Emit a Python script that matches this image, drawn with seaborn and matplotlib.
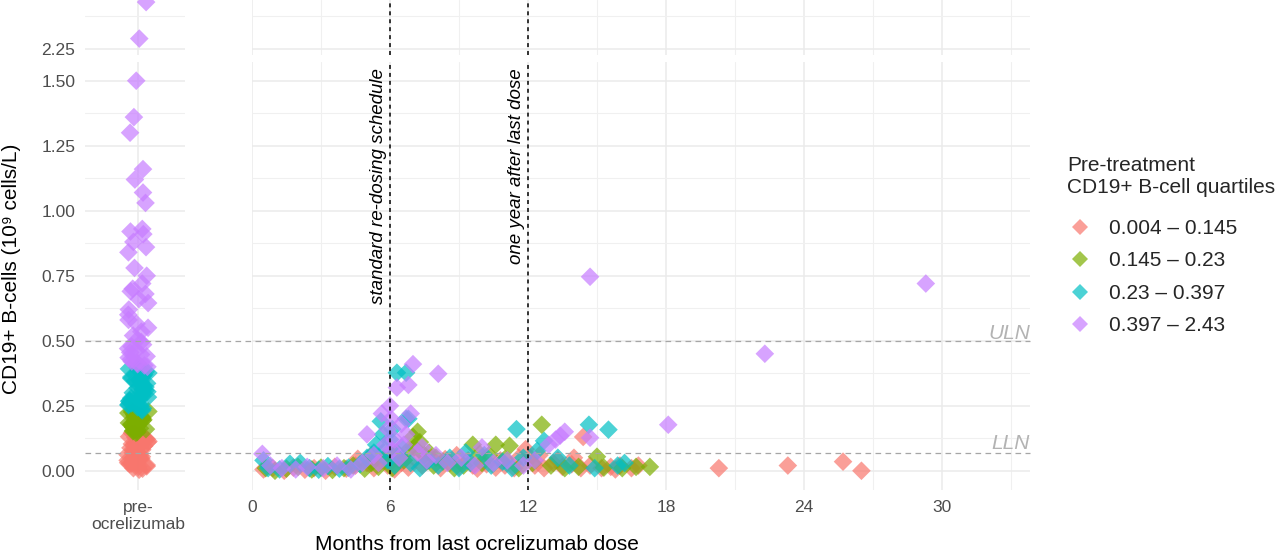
import numpy as np
import pandas as pd
import seaborn as sns
import matplotlib.pyplot as plt
from matplotlib.lines import Line2D
from matplotlib.transforms import blended_transform_factory

quartiles = ["0.004 – 0.145", "0.145 – 0.23", "0.23 – 0.397", "0.397 – 2.43"]
colors = ["#F8766D", "#7CAE00", "#00BFC4", "#C77CFF"]

# pre-treatment CD19+ counts per quartile
pre_q1 = [0.004, 0.008, 0.01, 0.015, 0.017, 0.022, 0.026, 0.028, 0.031, 0.037, 0.04, 0.043, 0.047, 0.05,
          0.054, 0.058, 0.062, 0.066, 0.069, 0.072, 0.078, 0.081, 0.085, 0.088, 0.092, 0.095, 0.099, 0.103,
          0.106, 0.11, 0.113, 0.117, 0.121, 0.124, 0.128, 0.131, 0.135, 0.138, 0.142, 0.145]
pre_q2 = [0.146, 0.149, 0.152, 0.155, 0.158, 0.16, 0.163, 0.167, 0.17, 0.172, 0.176, 0.179, 0.181, 0.184,
          0.188, 0.19, 0.193, 0.196, 0.199, 0.202, 0.205, 0.208, 0.211, 0.214, 0.217, 0.22, 0.222, 0.225,
          0.228, 0.23]
pre_q3 = [0.232, 0.236, 0.24, 0.244, 0.248, 0.252, 0.255, 0.259, 0.263, 0.267, 0.27, 0.274, 0.279, 0.283,
          0.287, 0.291, 0.296, 0.3, 0.304, 0.309, 0.313, 0.318, 0.322, 0.327, 0.331, 0.336, 0.341, 0.345,
          0.35, 0.355, 0.36, 0.365, 0.37, 0.376, 0.381, 0.386, 0.392, 0.397]
pre_q4 = [0.4, 0.405, 0.41, 0.416, 0.42, 0.428, 0.435, 0.44, 0.447, 0.455, 0.462, 0.47, 0.478, 0.485,
          0.495, 0.505, 0.52, 0.535, 0.55, 0.565, 0.58, 0.6, 0.62, 0.645, 0.66, 0.68, 0.69, 0.7, 0.72,
          0.75, 0.78, 0.84, 0.86, 0.88, 0.91, 0.92, 0.93, 1.03, 1.07, 1.12, 1.16, 1.3, 1.36, 1.5, 2.29, 2.43]

# follow-up (months since last dose, CD19+ count) per quartile
post_q1 = [(0.5, 0.005), (0.9, 0.01), (1.4, 0.0), (1.8, 0.012), (2.3, 0.004), (2.7, 0.01), (3.2, 0.0),
           (3.6, 0.015), (4.1, 0.008), (4.5, 0.02), (4.6, 0.046), (5.0, 0.03), (5.3, 0.01), (5.6, 0.04),
           (5.9, 0.02), (6.2, 0.005), (6.5, 0.03), (6.8, 0.012), (7.1, 0.045), (7.4, 0.02), (7.8, 0.05),
           (8.2, 0.01), (8.6, 0.03), (9.0, 0.015), (9.4, 0.04), (9.8, 0.008), (10.2, 0.025), (10.6, 0.012),
           (11.0, 0.02), (11.4, 0.01), (11.9, 0.083), (12.1, 0.05), (12.3, 0.02), (12.7, 0.01), (13.1, 0.03),
           (13.5, 0.015), (13.9, 0.025), (14.4, 0.13), (14.3, 0.01), (14.7, 0.02), (15.2, 0.01), (15.6, 0.015),
           (16.0, 0.02), (16.5, 0.01), (20.3, 0.01), (23.3, 0.02), (25.7, 0.035), (26.5, 0.0), (5.2, 0.06),
           (6.0, 0.07), (6.4, 0.055), (7.6, 0.035), (8.9, 0.06), (12.5, 0.06), (13.3, 0.04), (14.0, 0.05),
           (15.8, 0.005), (16.8, 0.02), (8.4, 0.045), (9.6, 0.02), (10.8, 0.04), (11.6, 0.05)]
post_q2 = [(0.6, 0.01), (1.0, 0.0), (1.5, 0.008), (2.0, 0.015), (2.6, 0.005), (3.0, 0.012), (3.5, 0.003),
           (4.0, 0.01), (4.4, 0.02), (4.9, 0.008), (5.2, 0.03), (5.5, 0.015), (5.8, 0.05), (6.1, 0.01),
           (6.3, 0.07), (6.6, 0.04), (7.0, 0.13), (7.2, 0.15), (7.05, 0.09), (7.5, 0.06), (7.9, 0.02),
           (8.3, 0.035), (8.8, 0.01), (9.2, 0.02), (9.6, 0.1), (10.0, 0.03), (10.6, 0.1), (11.2, 0.096),
           (11.0, 0.045), (11.6, 0.01), (12.2, 0.03), (12.6, 0.177), (13.0, 0.02), (13.6, 0.01), (14.2, 0.015),
           (15.0, 0.054), (15.3, 0.012), (16.1, 0.01), (16.7, 0.015), (17.3, 0.015), (6.8, 0.08), (7.3, 0.11),
           (7.7, 0.07), (8.0, 0.05), (9.9, 0.065), (10.3, 0.06)]
post_q3 = [(0.5, 0.04), (0.7, 0.01), (1.2, 0.005), (1.65, 0.027), (2.1, 0.03), (2.5, 0.01), (2.9, 0.004),
           (3.3, 0.018), (3.8, 0.008), (4.2, 0.012), (4.7, 0.025), (5.0, 0.05), (5.3, 0.07), (5.4, 0.1),
           (5.6, 0.19), (5.7, 0.14), (5.9, 0.04), (6.0, 0.12), (6.2, 0.02), (6.3, 0.377), (6.7, 0.377),
           (6.7, 0.2), (6.4, 0.06), (6.9, 0.03), (7.3, 0.01), (7.7, 0.04), (8.1, 0.02), (8.6, 0.05), (9.0, 0.01),
           (9.5, 0.03), (10.1, 0.06), (10.4, 0.02), (10.9, 0.035), (11.3, 0.01), (11.5, 0.16), (12.4, 0.077),
           (12.7, 0.115), (13.3, 0.05), (13.8, 0.02), (14.65, 0.177), (14.9, 0.01), (15.5, 0.158), (15.9, 0.02),
           (16.2, 0.03), (5.8, 0.08), (6.1, 0.16), (6.5, 0.09), (9.3, 0.07), (11.8, 0.05), (6.8, 0.2)]
post_q4 = [(0.45, 0.065), (0.8, 0.02), (1.3, 0.01), (1.9, 0.005), (2.4, 0.015), (3.1, 0.01), (3.7, 0.02),
           (4.3, 0.005), (4.8, 0.03), (5.0, 0.14), (5.3, 0.06), (5.65, 0.22), (5.8, 0.1), (5.9, 0.16),
           (6.0, 0.25), (6.1, 0.08), (6.2, 0.12), (6.3, 0.32), (6.8, 0.33), (6.4, 0.05), (6.5, 0.18),
           (6.9, 0.22), (7.0, 0.41), (6.6, 0.1), (7.2, 0.07), (7.6, 0.04), (8.1, 0.373), (8.0, 0.06),
           (8.5, 0.03), (9.1, 0.05), (9.7, 0.02), (10.0, 0.09), (10.5, 0.03), (11.1, 0.04), (11.8, 0.02),
           (12.3, 0.04), (13.4, 0.135), (13.6, 0.15), (14.7, 0.127), (14.7, 0.746), (18.1, 0.177),
           (22.3, 0.45), (29.3, 0.72), (6.05, 0.2), (5.5, 0.03), (6.7, 0.14), (7.4, 0.09), (12.9, 0.1),
           (13.2, 0.12)]

uln = 0.5
lln = 0.067

pre_rows = []
for q, vals in zip(quartiles, [pre_q1, pre_q2, pre_q3, pre_q4]):
    for v in vals:
        pre_rows.append({"group": "pre-\nocrelizumab", "cd19": v, "quartile": q})
pre = pd.DataFrame(pre_rows)

post_rows = []
for q, pts in zip(quartiles, [post_q1, post_q2, post_q3, post_q4]):
    for m, v in pts:
        post_rows.append({"months": m, "cd19": v, "quartile": q})
post = pd.DataFrame(post_rows)

sns.set_theme(style="whitegrid")
plt.rcParams["font.family"] = ["Liberation Sans", "DejaVu Sans"]
palette = dict(zip(quartiles, colors))

W, H = 1280, 554
fig = plt.figure(figsize=(12.8, 5.54), dpi=100)


def px_rect(x0, y0, x1, y1):
    return [x0 / W, 1 - y1 / H, (x1 - x0) / W, (y1 - y0) / H]


ax_pre = fig.add_axes(px_rect(85, 62, 185, 490))
ax_pre_top = fig.add_axes(px_rect(85, 0, 185, 55))
ax_post = fig.add_axes(px_rect(252, 62, 1030, 490))
ax_post_top = fig.add_axes(px_rect(252, 0, 1030, 55))

np.random.seed(3)
for ax in [ax_pre, ax_pre_top]:
    sns.stripplot(data=pre, x="group", y="cd19", hue="quartile", hue_order=quartiles, palette=palette,
                  marker="D", s=9.5, alpha=0.7, linewidth=0, jitter=0.11, legend=False, ax=ax)
    ax.set_xlim(-0.53, 0.47)

for ax in [ax_post, ax_post_top]:
    sns.scatterplot(data=post, x="months", y="cd19", hue="quartile", hue_order=quartiles, palette=palette,
                    marker="D", s=90, alpha=0.7, linewidth=0, legend=False, ax=ax)
    ax.set_xlim(0, 33.83)
    ax.set_xticks([0, 6, 12, 18, 24, 30])
    ax.set_xticks([3, 9, 15, 21, 27, 33], minor=True)
    ax.axvline(6, color="black", lw=1.1, ls=(0, (2.6, 2.6)), zorder=1)
    ax.axvline(12, color="black", lw=1.1, ls=(0, (2.6, 2.6)), zorder=1)

yt = [0, 0.25, 0.5, 0.75, 1.0, 1.25, 1.5]
yminor = [0.125, 0.375, 0.625, 0.875, 1.125, 1.375]
for ax in [ax_pre, ax_post]:
    ax.set_ylim(-0.074, 1.572)
    ax.set_yticks(yt)
    ax.set_yticks(yminor, minor=True)
for ax in [ax_pre_top, ax_post_top]:
    ax.set_ylim(2.227, 2.438)
    ax.set_yticks([2.25])
    ax.set_yticks([2.375], minor=True)

ax_pre.set_yticklabels([f"{v:.2f}" for v in yt])
ax_pre_top.set_yticklabels(["2.25"])

for ax in [ax_pre, ax_pre_top, ax_post, ax_post_top]:
    for s in ax.spines.values():
        s.set_visible(False)
    ax.set_facecolor("white")
    ax.set_xlabel("")
    ax.set_ylabel("")
    ax.grid(which="major", color="#EBEBEB", lw=1.1)
    ax.grid(which="minor", color="#F0F0F0", lw=0.8)
    ax.tick_params(which="both", length=0, colors="#4D4D4D", labelsize=12.5)
    ax.tick_params(axis="y", pad=7)
    ax.tick_params(axis="x", pad=7)
    ax.set_axisbelow(True)

ax_pre_top.tick_params(labelbottom=False)
ax_post_top.tick_params(labelbottom=False)
ax_post.tick_params(labelleft=False)
ax_post_top.tick_params(labelleft=False)

# reference limits spanning both panels
tr = blended_transform_factory(fig.transFigure, ax_post.transData)
for yv in [uln, lln]:
    fig.add_artist(Line2D([85 / W, 1030 / W], [yv, yv], transform=tr, color="#A6A6A6", lw=0.9,
                          ls=(0, (4.5, 3.5)), zorder=0.5))
ax_post.text(33.83, uln + 0.008, "ULN", ha="right", va="baseline", style="italic", color="#B3B3B3",
             fontsize=15)
ax_post.text(33.83, lln + 0.015, "LLN", ha="right", va="baseline", style="italic", color="#B3B3B3",
             fontsize=15)

ax_post.text(5.85, 1.548, "standard re-dosing schedule", rotation=90, ha="right", va="top",
             style="italic", fontsize=13.5, color="black")
ax_post.text(11.85, 1.548, "one year after last dose", rotation=90, ha="right", va="top",
             style="italic", fontsize=13.5, color="black")

fig.text(12 / W, 1 - 269 / H, "CD19+ B-cells (10⁹ cells/L)", rotation=90, ha="center", va="center",
         fontsize=15, color="black")
fig.text(477 / W, 1 - 545 / H, "Months from last ocrelizumab dose", ha="center", va="center",
         fontsize=15, color="black")

handles = [Line2D([], [], marker="D", ls="none", color=c, alpha=0.7, markersize=8, markeredgewidth=0)
           for c in colors]
leg = fig.legend(handles, quartiles, title="Pre-treatment\nCD19+ B-cell quartiles", loc="upper left",
                 bbox_to_anchor=(1059 / W, 1 - 148 / H), frameon=False, fontsize=15, title_fontsize=15,
                 labelspacing=0.65, handletextpad=0.8, borderaxespad=0, handlelength=1.2)
leg._legend_box.align = "left"
leg._legend_box.sep = 15.5

fig.savefig("out.png", dpi=100)
